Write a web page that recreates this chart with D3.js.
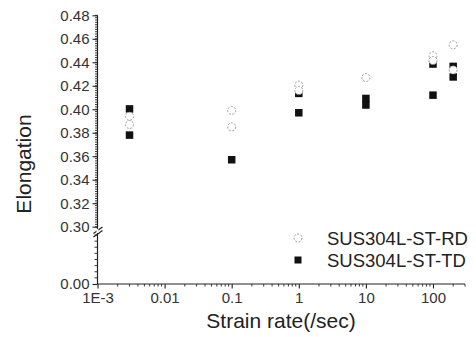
<!DOCTYPE html>
<html><head><meta charset="utf-8">
<script src="https://cdn.jsdelivr.net/npm/d3@7"></script>
<style>html,body{margin:0;padding:0;background:#fff;}svg{display:block;}</style>
</head><body>
<svg id="c" width="476" height="337"></svg>
<script>
// Data
const seriesNames = ["SUS304L-ST-RD", "SUS304L-ST-TD"];
const rdX = [0.003, 0.003, 0.1, 0.1, 1, 1, 10, 100, 100, 200, 200];
const rdY = [0.394, 0.387, 0.399, 0.385, 0.4205, 0.416, 0.427, 0.4455, 0.4415, 0.4548, 0.4335];
const tdX = [0.003, 0.003, 0.1, 1, 1, 10, 10, 100, 100, 200, 200];
const tdY = [0.4003, 0.378, 0.357, 0.4135, 0.397, 0.4092, 0.4036, 0.4385, 0.412, 0.4365, 0.4275];
const xTickValues = [0.001, 0.01, 0.1, 1, 10, 100];
const xTickLabels = ["1E-3", "0.01", "0.1", "1", "10", "100"];
const yTickValues = [0.30, 0.32, 0.34, 0.36, 0.38, 0.40, 0.42, 0.44, 0.46, 0.48];
const yLowTickValues = [0.00];

const svg = d3.select("#c");
const font = "'Liberation Sans', Arial, sans-serif";

const x = d3.scaleLog().domain([0.001, 300]).range([97.5, 465]);
const yUp = d3.scaleLinear().domain([0.30, 0.48]).range([226.7, 15.3]);
const yLow = d3.scaleLinear().domain([0, 0.04]).range([284, 235]);
const yVal = v => v >= 0.3 ? yUp(v) : yLow(v);

const axisX = 97.5, axisY = 284;
const ink = "#222";

// Y axis upper segment
const gUp = svg.append("g").attr("transform", `translate(${axisX},0)`);
gUp.append("line").attr("x1",0).attr("x2",0).attr("y1",yUp(0.48)).attr("y2",229).attr("stroke",ink).attr("stroke-width",1.2);
const minorUp = d3.range(0.30, 0.4801, 0.002);
gUp.selectAll("line.mn").data(minorUp).join("line").attr("class","mn")
  .attr("x1",0).attr("x2",-2.5).attr("y1",d=>yUp(d)).attr("y2",d=>yUp(d)).attr("stroke",ink).attr("stroke-width",0.9);
const axUp = d3.axisLeft(yUp).tickValues(yTickValues).tickSize(5).tickFormat(d3.format(".2f"));
const gA = gUp.append("g").call(axUp);
gA.select(".domain").remove();
gA.selectAll(".tick line").attr("stroke",ink).attr("stroke-width",1.1);
gA.selectAll(".tick text").attr("font-family",font).attr("font-size",15).attr("fill","#333").attr("x",-8);

// Y axis lower segment
const gLow = svg.append("g").attr("transform", `translate(${axisX},0)`);
gLow.append("line").attr("x1",0).attr("x2",0).attr("y1",233).attr("y2",axisY).attr("stroke",ink).attr("stroke-width",1.2);
const minorLow = d3.range(0.005, 0.0401, 0.005);
gLow.selectAll("line.mn").data(minorLow).join("line").attr("class","mn")
  .attr("x1",0).attr("x2",-3).attr("y1",d=>yLow(d)).attr("y2",d=>yLow(d)).attr("stroke",ink).attr("stroke-width",0.9);
const axLow = d3.axisLeft(yLow).tickValues(yLowTickValues).tickSize(5).tickFormat(d3.format(".2f"));
const gB = gLow.append("g").call(axLow);
gB.select(".domain").remove();
gB.selectAll(".tick line").attr("stroke",ink).attr("stroke-width",1.1);
gB.selectAll(".tick text").attr("font-family",font).attr("font-size",15).attr("fill","#333").attr("x",-8);

// Break marks
[0, 3.5].forEach(off => {
  svg.append("line").attr("x1",axisX-4).attr("y1",233.5+off).attr("x2",axisX+5).attr("y2",227+off)
    .attr("stroke",ink).attr("stroke-width",1.2);
});
svg.append("rect").attr("x",axisX-1).attr("y",229.3).attr("width",2).attr("height",3.5).attr("fill","#fff");

// X axis
const gx = svg.append("g").attr("transform", `translate(0,${axisY})`);
gx.append("line").attr("x1",axisX).attr("x2",465).attr("y1",0).attr("y2",0).attr("stroke",ink).attr("stroke-width",1.2);
const minorX = [];
for (let e = -3; e <= 2; e++) for (let m = 2; m <= 9; m++) { const v = m * Math.pow(10, e); if (v <= 300) minorX.push(v); }
gx.selectAll("line.mn").data(minorX).join("line").attr("class","mn")
  .attr("x1",d=>x(d)).attr("x2",d=>x(d)).attr("y1",0).attr("y2",2.5).attr("stroke",ink).attr("stroke-width",0.9);
const axB = d3.axisBottom(x).tickValues(xTickValues).tickSize(4.5).tickFormat((d,i)=>xTickLabels[i]);
const gC = gx.append("g").call(axB);
gC.select(".domain").remove();
gC.selectAll(".tick line").attr("stroke",ink).attr("stroke-width",1.1);
gC.selectAll(".tick text").attr("font-family",font).attr("font-size",15).attr("fill","#333").attr("y",8);

// Axis titles
svg.append("text").attr("x",281).attr("y",328).attr("text-anchor","middle")
  .attr("font-family",font).attr("font-size",21).attr("fill","#222").text("Strain rate(/sec)");
svg.append("text").attr("transform","translate(31,164) rotate(-90)").attr("text-anchor","middle")
  .attr("font-family",font).attr("font-size",21).attr("fill","#222").text("Elongation");

// Marks: squares (TD) then circles (RD) on top
const sq = 7.5;
svg.append("g").selectAll("rect").data(tdX.map((d,i)=>[d,tdY[i]])).join("rect")
  .attr("x",d=>x(d[0])-sq/2).attr("y",d=>yVal(d[1])-sq/2).attr("width",sq).attr("height",sq).attr("fill","#111");
svg.append("g").selectAll("circle").data(rdX.map((d,i)=>[d,rdY[i]])).join("circle")
  .attr("cx",d=>x(d[0])).attr("cy",d=>yVal(d[1])).attr("r",4)
  .attr("fill","#fff").attr("stroke","#999").attr("stroke-width",1).attr("stroke-dasharray","2,1.5");

// Legend
const lg = svg.append("g");
lg.append("circle").attr("cx",298).attr("cy",238).attr("r",4).attr("fill","#fff").attr("stroke","#999").attr("stroke-width",1).attr("stroke-dasharray","2,1.5");
lg.append("rect").attr("x",298-3.5).attr("y",260-3.5).attr("width",7).attr("height",7).attr("fill","#111");
lg.selectAll("text").data(seriesNames).join("text")
  .attr("x",327).attr("y",(d,i)=>238+22*i+6.5)
  .attr("font-family",font).attr("font-size",18.5).attr("fill","#222").text(d=>d);
</script>
</body></html>
